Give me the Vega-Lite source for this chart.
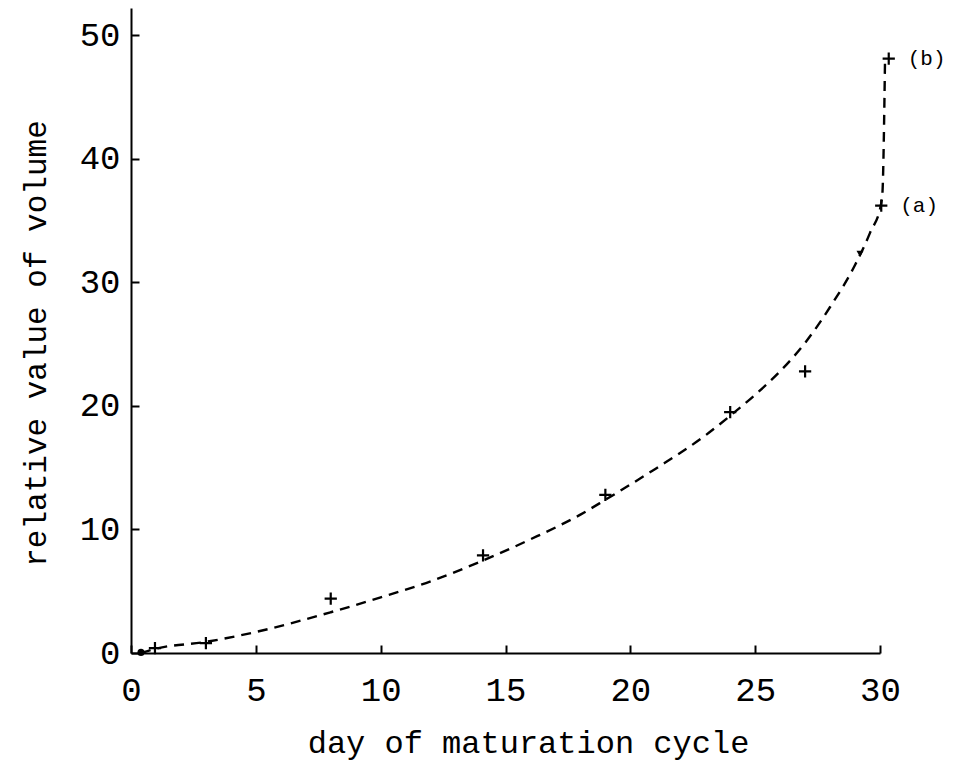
{
  "$schema": "https://vega.github.io/schema/vega-lite/v6.json",
  "autosize": {"type": "none"},
  "padding": {"left": 131, "top": 8, "right": 81, "bottom": 110},
  "width": 749,
  "height": 645,
  "background": "white",
  "config": {
    "view": {"stroke": null},
    "axis": {
      "grid": false,
      "domainColor": "black",
      "domainWidth": 2,
      "tickColor": "black",
      "tickWidth": 2,
      "tickSize": -8,
      "labelFlush": false,
      "labelOverlap": false,
      "labelFont": "Liberation Mono",
      "labelFontSize": 34,
      "labelFontWeight": "normal",
      "labelColor": "black",
      "titleFont": "Liberation Mono",
      "titleFontWeight": "normal",
      "titleColor": "black"
    }
  },
  "datasets": {
    "curve": [
      {"day": 0.4, "value": 0.0},
      {"day": 1, "value": 0.35},
      {"day": 3, "value": 0.9},
      {"day": 5, "value": 1.7},
      {"day": 8, "value": 3.3},
      {"day": 10, "value": 4.5},
      {"day": 12, "value": 5.8},
      {"day": 14, "value": 7.4},
      {"day": 16, "value": 9.2},
      {"day": 18, "value": 11.2},
      {"day": 19, "value": 12.4},
      {"day": 21, "value": 14.9},
      {"day": 23, "value": 17.6},
      {"day": 24, "value": 19.2},
      {"day": 25, "value": 20.9},
      {"day": 26, "value": 22.8},
      {"day": 27, "value": 25.1},
      {"day": 28, "value": 28.0},
      {"day": 29, "value": 31.4},
      {"day": 29.6, "value": 34.0},
      {"day": 30.05, "value": 36.4},
      {"day": 30.1, "value": 37.3},
      {"day": 30.2, "value": 47.8}
    ],
    "points": [
      {"day": 0.96, "value": 0.4},
      {"day": 3.0, "value": 0.8},
      {"day": 8.0, "value": 4.4},
      {"day": 14.1, "value": 7.9},
      {"day": 19.0, "value": 12.8},
      {"day": 24.0, "value": 19.5},
      {"day": 27.0, "value": 22.8},
      {"day": 30.05, "value": 36.2},
      {"day": 30.35, "value": 48.1}
    ],
    "dots": [
      {"day": 0.4, "value": 0.05, "shape": "circle"},
      {"day": 29.2, "value": 32.3, "shape": "triangle-down"}
    ],
    "labels": [
      {"day": 30.35, "value": 48.1, "label": "(b)"},
      {"day": 30.05, "value": 36.2, "label": "(a)"}
    ]
  },
  "layer": [
    {
      "data": {"name": "curve"},
      "mark": {"type": "line", "color": "black", "strokeWidth": 2.4, "strokeDash": [10, 7], "interpolate": "monotone"},
      "encoding": {
        "x": {
          "field": "day", "type": "quantitative",
          "scale": {"domain": [0, 30], "nice": false, "zero": false},
          "axis": {
            "values": [0, 5, 10, 15, 20, 25, 30],
            "labelPadding": 28,
            "title": "day of maturation cycle",
            "titleFontSize": 32,
            "titleX": 397,
            "titleY": 99,
            "titleBaseline": "alphabetic",
            "titleAlign": "center"
          }
        },
        "y": {
          "field": "value", "type": "quantitative",
          "scale": {"domain": [0, 52.2], "nice": false, "zero": false},
          "axis": {
            "values": [0, 10, 20, 30, 40, 50],
            "labelPadding": 19,
            "title": "relative value of volume",
            "titleFontSize": 31,
            "titleX": -86,
            "titleY": 335,
            "titleAngle": 270,
            "titleBaseline": "alphabetic",
            "titleAlign": "center"
          }
        }
      }
    },
    {
      "data": {"name": "points"},
      "mark": {"type": "point", "shape": "M-1,0L1,0M0,-1L0,1", "size": 150, "filled": false, "stroke": "black", "strokeWidth": 2.2, "opacity": 1},
      "encoding": {
        "x": {"field": "day", "type": "quantitative"},
        "y": {"field": "value", "type": "quantitative"}
      }
    },
    {
      "data": {"name": "dots"},
      "mark": {"type": "point", "filled": true, "color": "black", "size": 50, "opacity": 1},
      "encoding": {
        "x": {"field": "day", "type": "quantitative"},
        "y": {"field": "value", "type": "quantitative"},
        "shape": {"field": "shape", "type": "nominal", "scale": null, "legend": null}
      }
    },
    {
      "data": {"name": "labels"},
      "mark": {"type": "text", "align": "left", "baseline": "middle", "dx": 19, "font": "Liberation Mono", "fontSize": 21, "color": "black"},
      "encoding": {
        "x": {"field": "day", "type": "quantitative"},
        "y": {"field": "value", "type": "quantitative"},
        "text": {"field": "label", "type": "nominal"}
      }
    }
  ]
}
